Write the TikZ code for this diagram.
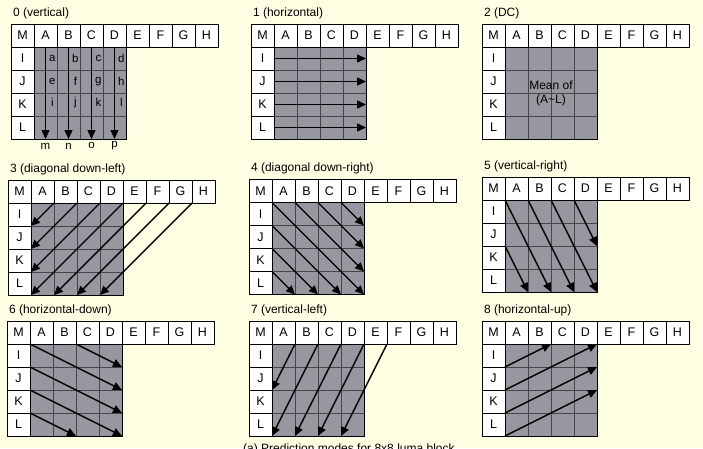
\documentclass[tikz,border=0pt]{standalone}
\usepackage{fontspec}
\setmainfont{Liberation Sans}
\usetikzlibrary{arrows.meta}
\definecolor{paper}{HTML}{FFFFE4}
\definecolor{blockgray}{HTML}{97979F}
\definecolor{gridgray}{HTML}{45454A}
\tikzset{
    cell/.style = {draw=black, fill=white, line width=0.6pt, minimum size=23pt, inner sep=0pt, font=\fontsize{12.5}{14}\selectfont},
    mode-title/.style = {anchor=west, inner sep=0pt, font=\fontsize{12}{14}\selectfont},
    pixel/.style = {inner sep=0pt, font=\fontsize{11.5}{13}\selectfont},
    pred/.style = {line width=1.4pt, -{Triangle[length=9pt,width=8pt]}},
}
\newcommand{\predmode}[5]{%
  \begin{scope}[shift={(#2,#3)}, x=23pt, y=-23pt, name prefix=#1-]
    \fill[blockgray] (1,1) rectangle (5,5);
    \foreach \k in {2,3,4} {
      \draw[gridgray, line width=0.6pt] (\k,1) -- (\k,5);
      \draw[gridgray, line width=0.6pt] (1,\k) -- (5,\k);
    }
    \draw[line width=0.7pt] (1,1) rectangle (5,5);
    \node[mode-title] (title) at (0.08,-0.47) {#4};
    \foreach \c [count=\i from 0] in {M,A,B,C,D,E,F,G,H}
      \node[cell] (\c) at (\i+0.5,0.5) {\c};
    \foreach \r [count=\j from 1] in {I,J,K,L}
      \node[cell] (\r) at (0.5,\j+0.5) {\r};
    #5
  \end{scope}}

\begin{document}
\begin{tikzpicture}[x=1pt, y=-1pt]
\useasboundingbox (0,0) rectangle (703,448);
\fill[paper] (0,0) rectangle (703,448);

\predmode{p0}{11}{24}{0 (vertical)}{
  \foreach \x in {1.5,2.5,3.5,4.5}
    \draw[pred] (\x,1) -- (\x,5);
  \foreach \row/\y in {{a,b,c,d}/1.5,{e,f,g,h}/2.5,{i,j,k,l}/3.4}
    \foreach \t [count=\n] in \row
      \node[pixel] (\t) at (\n+0.8,\y) {\t};
  \foreach \t [count=\n] in {m,n,o,p}
    \node[pixel] (\t) at (\n+0.5,5.3) {\t};
}
\predmode{p1}{251}{24}{1 (horizontal)}{
  \foreach \y in {1.5,2.5,3.5,4.5}
    \draw[pred] (1,\y) -- (5,\y);
}
\predmode{p2}{482}{24}{2 (DC)}{
  \node[align=center, inner sep=0pt, font=\fontsize{12}{14}\selectfont] (mean) at (3,3) {Mean of\\(A\textasciitilde L)};
}
\predmode{p3}{8}{180}{3 (diagonal down-left)}{
  \foreach \sx/\ex/\ey in {2/1/2, 3/1/3, 4/1/4, 5/1/5, 6/2/5, 7/3/5, 8/4/5}
    \draw[pred] (\sx,1) -- (\ex,\ey);
}
\predmode{p4}{249}{179.5}{4 (diagonal down-right)}{
  \foreach \sx/\sy/\ex/\ey in {1/1/5/5, 2/1/5/4, 3/1/5/3, 4/1/5/2, 1/2/4/5, 1/3/3/5, 1/4/2/5}
    \draw[pred] (\sx,\sy) -- (\ex,\ey);
}
\predmode{p5}{482}{177}{5 (vertical-right)}{
  \foreach \sx/\sy/\ex/\ey in {1/1/3/5, 2/1/4/5, 3/1/5/5, 4/1/5/3, 1/3/2/5}
    \draw[pred] (\sx,\sy) -- (\ex,\ey);
}
\predmode{p6}{7}{321}{6 (horizontal-down)}{
  \foreach \sx/\sy/\ex/\ey in {1/1/5/3, 3/1/5/2, 1/2/5/4, 1/3/5/5, 1/4/3/5}
    \draw[pred] (\sx,\sy) -- (\ex,\ey);
}
\predmode{p7}{249}{321}{7 (vertical-left)}{
  \foreach \sx/\sy/\ex/\ey in {2/1/1/3, 3/1/1/5, 4/1/2/5, 5/1/3/5, 6/1/4/5}
    \draw[pred] (\sx,\sy) -- (\ex,\ey);
}
\predmode{p8}{482}{321}{8 (horizontal-up)}{
  \foreach \sx/\sy/\ex/\ey in {1/2/3/1, 1/3/5/1, 1/4/5/2, 1/5/5/3}
    \draw[pred] (\sx,\sy) -- (\ex,\ey);
}

\node[anchor=base west, inner sep=0pt, font=\fontsize{12}{14}\selectfont] (caption) at (243,452) {(a) Prediction modes for 8x8 luma block};
\end{tikzpicture}
\end{document}
